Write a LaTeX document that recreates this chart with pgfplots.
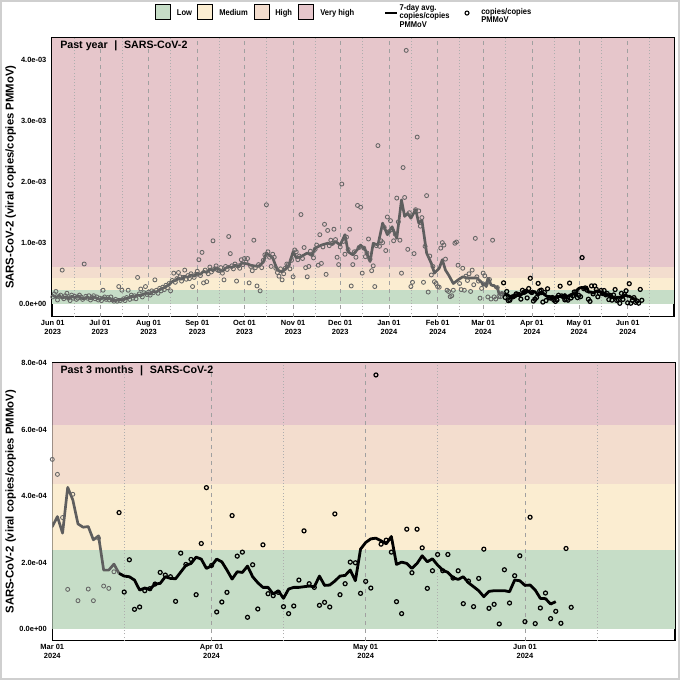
\documentclass[border=0pt]{standalone}
\usepackage{fontspec}
\setmainfont{Liberation Sans}
\newfontfamily\condfont{Liberation Sans}[FakeStretch=0.9]
\usepackage{pgfplots}
\pgfplotsset{compat=1.18}
\usepackage{pgfplotstable}
\definecolor{lowc}{HTML}{C6DDC7}
\definecolor{medc}{HTML}{FBEDD1}
\definecolor{highc}{HTML}{F3DDCE}
\definecolor{vhighc}{HTML}{E6C6CB}
\definecolor{grayline}{HTML}{5E5E5E}
\definecolor{graypt}{HTML}{666666}
\definecolor{gridc}{HTML}{A0A0A0}
\definecolor{framec}{HTML}{CFCFCF}
\newcommand\tickfont{\fontsize{5.6}{6.3}\selectfont\bfseries}
\newcommand\titlefont{\fontsize{8}{9}\selectfont\bfseries}
\newcommand\labfont{\fontsize{8.5}{9}\selectfont\bfseries}
\newcommand\legfont{\condfont\fontsize{6.3}{6.3}\selectfont\bfseries}

% 7-day average, grey part (units of 1e-4, x = days since 2023-06-01)
\pgfplotstableread[row sep=\\]{
x y\\
0 1.5\\ 2 1.1\\ 4 1.4\\ 6 1.0\\ 8 1.2\\ 10 0.9\\ 12 1.3\\ 14 1.1\\ 16 1.4\\ 18 1.0\\
20 0.9\\ 22 1.2\\ 24 0.9\\ 26 1.2\\ 28 1.0\\ 30 0.8\\ 32 1.1\\ 34 0.9\\ 36 1.0\\ 38 0.7\\
40 0.6\\ 42 0.8\\ 44 0.7\\ 46 0.9\\ 48 1.0\\ 50 1.3\\ 52 1.2\\ 54 1.5\\ 56 1.4\\ 58 1.7\\
60 1.8\\ 62 1.7\\ 64 2.1\\ 66 2.0\\ 68 2.4\\ 70 2.6\\ 72 2.9\\ 74 3.2\\ 76 3.7\\ 78 3.9\\
80 4.3\\ 82 4.1\\ 84 4.6\\ 86 4.4\\ 88 4.8\\ 90 4.6\\ 92 5.1\\ 94 4.9\\ 96 5.4\\ 98 5.2\\
100 5.8\\ 102 5.5\\ 104 6.0\\ 106 5.7\\ 108 5.4\\ 110 5.9\\ 112 6.2\\ 114 6.0\\ 116 6.4\\ 118 6.1\\
120 6.7\\ 122 6.7\\ 124 6.6\\ 126 6.4\\ 128 6.3\\ 131 6.2\\ 134 6.9\\ 136 8.4\\ 138 8.0\\ 140 7.6\\
143 5.6\\ 146 5.3\\ 150 6.2\\ 153 8.6\\ 155 7.6\\ 158 7.8\\ 162 8.4\\ 165 8.0\\ 167 9.2\\ 171 9.7\\
175 10.0\\ 178 9.8\\ 180 10.3\\ 183 9.7\\ 186 11.4\\ 188 8.6\\ 191 8.1\\ 194 9.0\\ 196 9.7\\ 199 8.9\\
202 7.0\\ 204 10.0\\ 207 9.7\\ 210 13.3\\ 213 11.4\\ 216 12.7\\ 219 10.8\\ 222 17.1\\ 224 14.4\\ 226 14.9\\
228 14.1\\ 231 15.5\\ 233 13.3\\ 235 13.8\\ 238 8.4\\ 241 6.7\\ 243 5.1\\ 246 5.9\\ 248 7.3\\ 250 5.6\\
252 4.8\\ 255 3.4\\ 258 4.0\\ 261 4.5\\ 264 4.3\\ 267 4.3\\ 270 4.3\\ 273 3.6\\
274 3.09\\ 275 3.39\\ 276 2.89\\ 277 4.27\\ 278 3.89\\ 279 3.17\\ 280 3.07\\ 281 3.09\\ 282 2.69\\ 283 2.81\\
284 1.78\\ 285 1.78\\ 286 1.96\\ 287 1.68\\
}\graylinetab

% 7-day average, black part
\pgfplotstableread[row sep=\\]{
x y\\
287 1.68\\ 288 1.60\\ 289 1.58\\ 290 1.48\\ 291 1.18\\ 292 1.24\\ 293 1.20\\ 294 1.36\\ 295 1.38\\ 296 1.58\\
297 1.53\\ 298 1.52\\ 299 1.72\\ 300 1.92\\ 301 1.98\\ 302 2.17\\ 303 2.11\\ 304 1.83\\ 305 1.91\\ 306 2.11\\
307 2.03\\ 308 1.78\\ 309 1.51\\ 310 1.73\\ 311 1.71\\ 312 1.90\\ 313 1.58\\ 314 1.40\\ 315 1.26\\ 316 1.26\\
317 1.06\\ 318 1.16\\ 319 0.93\\ 320 1.21\\ 321 1.26\\ 322 1.26\\ 323 1.28\\ 324 1.30\\ 325 1.28\\ 326 1.60\\
327 1.32\\ 328 1.33\\ 329 1.45\\ 330 1.60\\ 331 1.62\\ 332 1.78\\ 333 1.46\\ 334 2.41\\ 335 2.61\\ 336 2.72\\
337 2.74\\ 338 2.66\\ 339 2.57\\ 340 2.79\\ 341 1.95\\ 342 2.02\\ 343 1.98\\ 344 1.83\\ 345 1.98\\ 346 2.21\\
347 2.03\\ 348 2.12\\ 349 1.93\\ 350 1.78\\ 351 1.71\\ 352 1.55\\ 353 1.50\\ 354 1.58\\ 355 1.40\\ 356 1.28\\
357 1.16\\ 358 0.98\\ 359 1.14\\ 360 1.16\\ 361 1.16\\ 362 1.16\\ 363 1.13\\ 364 1.48\\ 365 1.46\\ 366 1.32\\
367 1.33\\ 368 1.18\\ 369 0.93\\ 370 0.92\\ 371 0.76\\ 372 0.83\\
}\blacklinetab

% samples, grey part
\pgfplotstableread[row sep=\\]{
x y\\
0 1.2\\ 1 1.7\\ 2 2.1\\ 3 0.7\\ 4 1.3\\ 5 1.5\\ 6 5.6\\ 7 0.9\\ 8 1.4\\ 9 1.8\\
10 1.0\\ 11 0.6\\ 12 1.5\\ 13 1.0\\ 14 1.3\\ 15 0.8\\ 16 1.0\\ 17 1.5\\ 18 1.2\\ 19 0.8\\
20 6.6\\ 21 1.3\\ 22 1.0\\ 23 1.4\\ 24 0.7\\ 25 1.1\\ 26 1.4\\ 27 0.9\\ 28 1.2\\ 29 0.7\\
30 1.0\\ 31 0.6\\ 32 2.3\\ 33 1.2\\ 34 0.8\\ 35 1.1\\ 36 0.7\\ 37 1.2\\ 38 0.7\\ 39 0.5\\
40 0.8\\ 41 0.5\\ 42 2.9\\ 43 0.6\\ 44 2.3\\ 45 0.9\\ 46 0.6\\ 47 1.1\\ 48 2.3\\ 49 0.8\\
50 1.5\\ 51 1.0\\ 52 1.4\\ 53 0.9\\ 54 4.4\\ 55 1.7\\ 56 2.5\\ 57 1.2\\ 58 1.9\\ 59 2.9\\
60 1.6\\ 61 2.0\\ 62 1.5\\ 63 2.2\\ 64 1.9\\ 65 4.0\\ 66 2.3\\ 67 1.8\\ 68 2.6\\ 69 2.2\\
70 2.8\\ 71 2.4\\ 72 3.1\\ 73 2.7\\ 74 3.4\\ 75 2.2\\ 76 3.9\\ 77 5.1\\ 78 3.6\\ 79 4.2\\
80 5.2\\ 81 4.5\\ 82 3.8\\ 83 4.4\\ 84 5.6\\ 85 4.1\\ 86 4.7\\ 87 4.2\\ 88 5.0\\ 89 2.9\\
90 4.4\\ 91 4.9\\ 92 5.4\\ 93 7.3\\ 94 4.7\\ 95 8.5\\ 96 3.5\\ 97 5.6\\ 98 3.7\\ 99 5.0\\
100 6.1\\ 101 5.3\\ 102 10.4\\ 103 5.8\\ 104 6.3\\ 105 5.6\\ 106 5.5\\ 107 6.0\\ 108 5.1\\ 109 4.0\\
110 6.2\\ 111 5.7\\ 112 11.1\\ 113 8.3\\ 114 6.3\\ 115 5.8\\ 116 6.6\\ 117 3.8\\ 118 6.3\\ 119 5.9\\
120 7.3\\ 121 6.5\\ 122 7.5\\ 123 6.9\\ 124 7.5\\ 125 3.5\\ 126 6.2\\ 127 5.5\\ 128 10.5\\ 129 6.0\\
130 3.0\\ 131 6.5\\ 132 2.2\\ 133 6.0\\ 134 7.2\\ 135 8.1\\ 136 16.3\\ 137 8.6\\ 138 7.7\\ 139 6.2\\
140 8.2\\ 141 7.7\\ 142 5.9\\ 143 5.2\\ 144 4.6\\ 145 5.8\\ 146 4.0\\ 147 5.0\\ 148 5.9\\ 149 6.6\\
150 6.5\\ 151 5.8\\ 152 7.2\\ 153 4.5\\ 154 8.9\\ 155 8.6\\ 156 7.3\\ 157 7.9\\ 158 14.7\\ 159 7.5\\
160 9.3\\ 161 6.0\\ 162 4.5\\ 163 6.2\\ 164 8.7\\ 165 8.2\\ 166 7.6\\ 167 9.0\\ 168 9.7\\ 169 6.4\\
170 11.4\\ 171 6.7\\ 172 9.4\\ 173 13.1\\ 174 4.9\\ 175 12.1\\ 176 9.6\\ 177 10.5\\ 178 10.0\\ 179 12.3\\
180 10.6\\ 181 7.7\\ 182 6.5\\ 183 9.4\\ 184 19.7\\ 185 10.3\\ 186 8.2\\ 187 11.0\\ 188 9.0\\ 189 12.3\\
190 3.0\\ 191 6.5\\ 192 8.6\\ 193 7.7\\ 194 16.2\\ 195 9.3\\ 196 15.9\\ 197 5.1\\ 198 9.2\\ 199 7.8\\
200 8.4\\ 201 10.7\\ 202 7.4\\ 203 5.5\\ 204 6.3\\ 205 2.9\\ 206 9.6\\ 207 26.0\\ 208 9.5\\ 209 10.4\\
210 10.1\\ 211 12.6\\ 212 8.8\\ 213 14.3\\ 214 11.9\\ 215 13.7\\ 216 12.2\\ 217 10.4\\ 218 11.5\\ 219 17.4\\
220 13.5\\ 221 10.5\\ 222 5.1\\ 223 22.4\\ 224 17.5\\ 225 41.6\\ 226 9.0\\ 227 15.0\\ 228 2.9\\ 229 3.6\\
230 8.3\\ 231 15.5\\ 232 27.4\\ 233 15.3\\ 234 12.8\\ 235 14.2\\ 236 3.6\\ 237 9.5\\ 238 17.8\\ 239 2.0\\
240 7.9\\ 241 4.8\\ 242 6.2\\ 243 3.7\\ 244 3.4\\ 245 2.9\\ 246 2.8\\ 247 9.2\\ 248 10.1\\ 249 9.7\\
250 7.4\\ 251 2.3\\ 252 2.1\\ 253 1.25\\ 254 1.4\\ 255 2.3\\ 256 10.0\\ 257 10.2\\ 258 6.4\\ 259 3.4\\
260 2.4\\ 261 5.9\\ 262 2.3\\ 263 4.6\\ 264 3.9\\ 265 5.0\\ 266 2.1\\ 267 5.6\\ 268 3.2\\ 269 10.8\\
270 4.5\\ 271 3.8\\ 272 1.0\\ 273 2.6\\
274 5.11\\ 275 4.66\\ 276 3.36\\ 277 1.20\\ 278 4.06\\ 279 0.86\\ 280 10.5\\ 281 1.21\\ 282 0.86\\ 283 2.74\\
284 1.30\\ 285 1.23\\ 286 1.73\\
}\graypts

% samples, black part
\pgfplotstableread[row sep=\\]{
x y\\
287 3.51\\ 288 1.12\\ 289 2.09\\ 290 0.60\\ 291 0.67\\ 292 1.16\\ 293 1.22\\ 294 1.36\\ 295 1.71\\ 296 1.63\\
297 1.58\\ 298 0.84\\ 299 2.29\\ 300 1.95\\ 301 2.10\\ 302 1.04\\ 303 2.58\\ 304 4.26\\ 305 1.92\\ 306 0.52\\
307 0.82\\ 308 1.11\\ 309 3.42\\ 310 2.20\\ 311 2.32\\ 312 0.36\\ 313 1.94\\ 314 0.61\\ 315 2.54\\ 316 1.07\\
317 1.01\\ 318 1.11\\ 319 0.68\\ 320 0.47\\ 321 0.70\\ 322 1.48\\ 323 2.96\\ 324 1.37\\ 325 1.26\\ 326 0.72\\
327 0.81\\ 328 0.67\\ 329 3.47\\ 330 1.04\\ 331 1.37\\ 332 2.02\\ 333 2.00\\ 334 1.08\\ 335 1.44\\ 336 1.24\\
337 7.65\\ 338 2.56\\ 339 2.68\\ 340 2.32\\ 341 0.83\\ 342 0.47\\ 343 3.01\\ 344 1.70\\ 345 3.01\\ 346 2.45\\
347 1.23\\ 348 1.76\\ 349 2.25\\ 350 1.76\\ 351 2.25\\ 352 1.54\\ 353 1.76\\ 354 0.77\\ 355 1.45\\ 356 0.68\\
357 1.53\\ 358 2.41\\ 359 0.63\\ 360 0.75\\ 361 0.16\\ 362 1.79\\ 363 0.79\\ 364 1.61\\ 365 2.21\\ 366 0.23\\
367 3.37\\ 368 0.17\\ 369 0.64\\ 370 1.09\\ 371 0.32\\ 372 0.54\\ 373 0.18\\ 374 2.43\\ 375 0.66\\
}\blackpts

\tikzset{
  gridmaj/.style={gridc, line width=0.5pt, dash pattern=on 3pt off 3pt},
  gridmin/.style={gridc!85, line width=0.45pt, dash pattern=on 0.6pt off 1.8pt},
}
\pgfplotsset{
  covid/.style={
    scale only axis, anchor=south west,
    axis line style={line width=0.9pt},
    tick style={draw=none},
    xticklabel style={font=\tickfont, align=center, inner sep=0pt, yshift=-2.6pt},
    yticklabel style={font=\tickfont, inner sep=0pt, xshift=-4pt},
    clip=true,
  },
  avggray/.style={grayline, line width=2.0pt, line join=round},
  avgblack/.style={black, line width=2.1pt, line join=round},
  ptgray/.style={only marks, mark=o, mark size=1.5pt, graypt, mark options={line width=0.65pt}},
  ptblack/.style={only marks, mark=o, mark size=1.5pt, black, mark options={line width=0.9pt}},
}

\begin{document}
\begin{tikzpicture}[x=1pt,y=1pt]
\path[use as bounding box] (0,0) rectangle (510,510);
\fill[white] (0,0) rectangle (510,510);
\draw[framec, line width=1.2pt] (0.6,0.6) rectangle (509.4,509.4);

% ---------- legend ----------
\filldraw[fill=lowc, draw=black, line width=0.6pt] (116.25,495.5) rectangle (127.5,506.5);
\filldraw[fill=medc, draw=black, line width=0.6pt] (148.0,495.5) rectangle (159.25,506.5);
\filldraw[fill=highc, draw=black, line width=0.6pt] (190.5,495.5) rectangle (201.75,506.5);
\filldraw[fill=vhighc, draw=black, line width=0.6pt] (223.5,495.5) rectangle (234.75,506.5);
\node[anchor=base west, inner sep=0pt, font=\legfont] at (132.5,498.6) {Low};
\node[anchor=base west, inner sep=0pt, font=\legfont] at (164.25,498.6) {Medium};
\node[anchor=base west, inner sep=0pt, font=\legfont] at (206.25,498.6) {High};
\node[anchor=base west, inner sep=0pt, font=\legfont] at (240.0,498.6) {Very high};
\draw[black, line width=2pt] (288.75,500.2) -- (297.75,500.2);
\node[anchor=base west, inner sep=0pt, font=\legfont] at (299.5,502.0) {7-day avg.};
\node[anchor=base west, inner sep=0pt, font=\legfont] at (299.5,495.8) {copies/copies};
\node[anchor=base west, inner sep=0pt, font=\legfont] at (299.5,489.6) {PMMoV};
\draw[black, line width=0.8pt] (350.25,500.2) circle (1.5pt);
\node[anchor=base west, inner sep=0pt, font=\legfont] at (360.75,499.4) {copies/copies};
\node[anchor=base west, inner sep=0pt, font=\legfont] at (360.75,493.2) {PMMoV};

% ---------- top panel: past year ----------
\begin{axis}[covid,
  at={(39pt,272.5pt)}, width=466.5pt, height=209.3pt,
  xmin=-0.5, xmax=395.5, ymin=-2.03, ymax=43.7,
  xtick={0,30,61,92,122,153,183,214,245,274,305,335,366},
  xticklabels={{Jun 01\\2023},{Jul 01\\2023},{Aug 01\\2023},{Sep 01\\2023},{Oct 01\\2023},{Nov 01\\2023},{Dec 01\\2023},{Jan 01\\2024},{Feb 01\\2024},{Mar 01\\2024},{Apr 01\\2024},{May 01\\2024},{Jun 01\\2024}},
  ytick={0,10,20,30,40},
  yticklabels={0.0e+00,1.0e-03,2.0e-03,3.0e-03,4.0e-03},
]
\fill[lowc] (axis cs:-0.5,0) rectangle (axis cs:395.5,2.39);
\fill[medc] (axis cs:-0.5,2.39) rectangle (axis cs:395.5,4.36);
\fill[highc] (axis cs:-0.5,4.36) rectangle (axis cs:395.5,6.13);
\fill[vhighc] (axis cs:-0.5,6.13) rectangle (axis cs:395.5,43.7);
\pgfplotsinvokeforeach{30,61,92,122,153,183,214,245,274,305,335,366}{
  \draw[gridmaj] (axis cs:#1,-2.03) -- (axis cs:#1,43.7);}
\pgfplotsinvokeforeach{14,44,75,106,136,167,197,228,259,288,319,349,380}{
  \draw[gridmin] (axis cs:#1,-2.03) -- (axis cs:#1,43.7);}
\addplot[avggray] table[x=x,y=y] {\graylinetab};
\addplot[avgblack] table[x=x,y=y] {\blacklinetab};
\addplot[ptgray] table[x=x,y=y] {\graypts};
\addplot[ptblack] table[x=x,y=y] {\blackpts};
\node[anchor=base west, inner sep=0pt, font=\titlefont, xshift=6pt, yshift=-8.5pt] at (rel axis cs:0,1) {Past year\hspace{5pt}|\hspace{5pt}SARS-CoV-2};
\end{axis}

% ---------- bottom panel: past 3 months ----------
\begin{axis}[covid,
  at={(39.2pt,29.5pt)}, width=467pt, height=208.5pt,
  xmin=274, xmax=395.2, ymin=-0.343, ymax=8.02,
  xtick={274,305,335,366},
  xticklabels={{Mar 01\\2024},{Apr 01\\2024},{May 01\\2024},{Jun 01\\2024}},
  ytick={0,2,4,6,8},
  yticklabels={0.0e+00,2.0e-04,4.0e-04,6.0e-04,8.0e-04},
]
\fill[lowc] (axis cs:274,0) rectangle (axis cs:395.2,2.39);
\fill[medc] (axis cs:274,2.39) rectangle (axis cs:395.2,4.36);
\fill[highc] (axis cs:274,4.36) rectangle (axis cs:395.2,6.13);
\fill[vhighc] (axis cs:274,6.13) rectangle (axis cs:395.2,8.02);
\pgfplotsinvokeforeach{305,335,366}{
  \draw[gridmaj] (axis cs:#1,-0.343) -- (axis cs:#1,8.02);}
\pgfplotsinvokeforeach{288,319,349,380}{
  \draw[gridmin] (axis cs:#1,-0.343) -- (axis cs:#1,8.02);}
\addplot[avggray] table[x=x,y=y] {\graylinetab};
\addplot[avgblack] table[x=x,y=y] {\blacklinetab};
\addplot[ptgray] table[x=x,y=y] {\graypts};
\addplot[ptblack] table[x=x,y=y] {\blackpts};
\node[anchor=base west, inner sep=0pt, font=\titlefont, xshift=6pt, yshift=-8pt] at (rel axis cs:0,1) {Past 3 months\hspace{5pt}|\hspace{5pt}SARS-CoV-2};
\end{axis}

% ---------- y axis titles ----------
\node[rotate=90, font=\labfont, inner sep=0pt] at (8,377.1) {SARS-CoV-2 (viral copies/copies PMMoV)};
\node[rotate=90, font=\labfont, inner sep=0pt] at (8,133.7) {SARS-CoV-2 (viral copies/copies PMMoV)};
\end{tikzpicture}
\end{document}
